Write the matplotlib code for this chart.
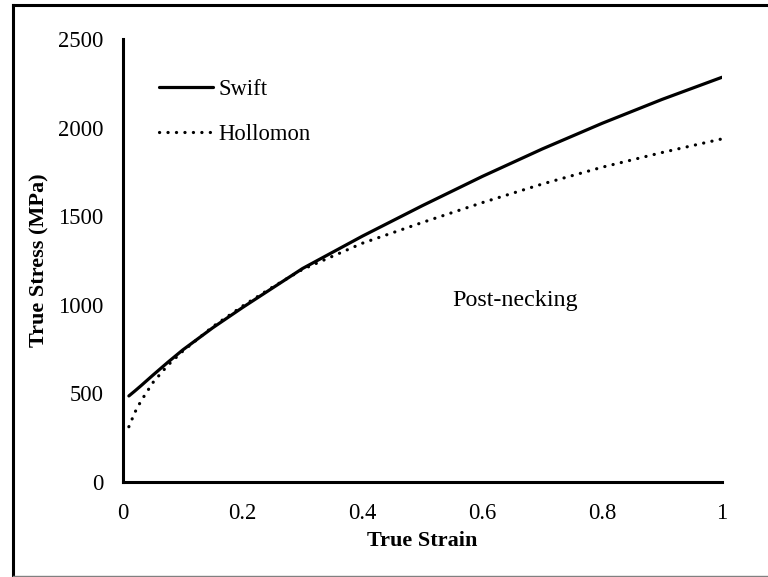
import matplotlib.pyplot as plt
from matplotlib.lines import Line2D

plt.rcParams['font.family'] = ['Liberation Serif', 'DejaVu Serif']

# values
strain = [0.01, 0.02, 0.03, 0.05, 0.075, 0.1, 0.15, 0.2, 0.25, 0.3,
          0.4, 0.5, 0.6, 0.7, 0.8, 0.9, 1.0]
swift = [485, 513, 542, 602, 675, 745, 870, 985, 1095, 1205,
         1388, 1560, 1725, 1880, 2025, 2160, 2285]
hollomon = [311, 392, 455, 560, 658, 738, 876, 993, 1100, 1200,
            1348, 1465, 1577, 1682, 1777, 1860, 1937]

xticks = [0, 0.2, 0.4, 0.6, 0.8, 1]
xticklabels = ['0', '0.2', '0.4', '0.6', '0.8', '1']
yticks = [0, 500, 1000, 1500, 2000, 2500]

fig = plt.figure(figsize=(7.68, 5.77), dpi=100)
ax = fig.add_axes([0.160, 0.165, 0.780, 0.767])

ax.plot(strain, swift, color='black', lw=2.3, solid_capstyle='round', label='Swift')
ax.plot(strain, hollomon, color='black', lw=2.3, linestyle=(0, (0.05, 2.6)),
        dash_capstyle='round', label='Hollomon')

ax.set_xlim(0, 1)
ax.set_ylim(0, 2500)
ax.set_xticks(xticks)
ax.set_xticklabels(xticklabels)
ax.set_yticks(yticks)
ax.tick_params(length=0, labelsize=16.3)
ax.tick_params(axis='x', pad=15)
ax.tick_params(axis='y', pad=14)

for s in ['top', 'right']:
    ax.spines[s].set_visible(False)
for s in ['left', 'bottom']:
    ax.spines[s].set_linewidth(2.2)

ax.set_xlabel('True Strain', fontsize=16, fontweight='bold', labelpad=5)
ax.set_ylabel('True Stress (MPa)', fontsize=16, fontweight='bold', labelpad=6)

ax.text(0.654, 1025, 'Post-necking', fontsize=17.3, ha='center', va='center')

ax.legend(loc='upper left', bbox_to_anchor=(0.045, 0.93), frameon=False,
          fontsize=16.3, handlelength=2.4, handletextpad=0.25, labelspacing=1.05,
          borderaxespad=0)

# outer frame of the chart area
fig.add_artist(Line2D([12.5 / 768, 12.5 / 768], [0, 1 - 5 / 577],
                      transform=fig.transFigure, color='black', lw=2.2))
fig.add_artist(Line2D([12.5 / 768, 1], [1 - 5 / 577, 1 - 5 / 577],
                      transform=fig.transFigure, color='black', lw=2.2))
fig.add_artist(Line2D([12.5 / 768, 1], [0.6 / 577, 0.6 / 577],
                      transform=fig.transFigure, color='gray', lw=1))

fig.savefig('out.png', dpi=100)
